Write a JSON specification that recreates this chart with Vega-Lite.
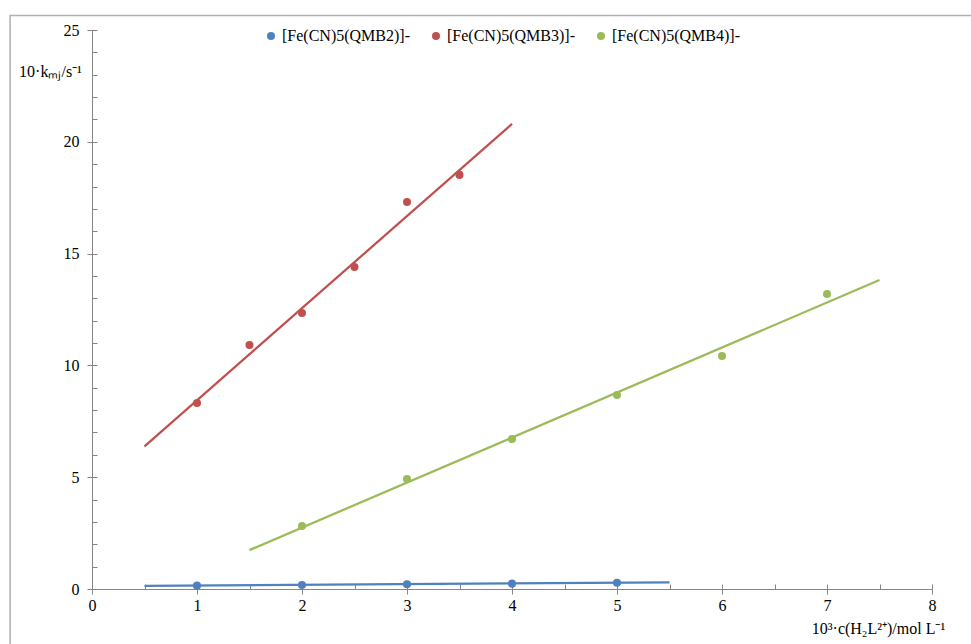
{
  "$schema": "https://vega.github.io/schema/vega-lite/v6.json",
  "width": 840,
  "height": 559,
  "autosize": {"type": "none"},
  "padding": {"left": 92, "top": 30, "right": 39, "bottom": 55},
  "background": "white",
  "config": {
    "view": {"stroke": null},
    "font": "'Liberation Serif', 'Times New Roman', serif",
    "axis": {
      "domainColor": "#868686",
      "tickColor": "#868686",
      "labelColor": "#000000",
      "labelFont": "'Liberation Serif', 'Times New Roman', serif",
      "labelFontSize": 16,
      "labelFlush": false,
      "titleFont": "'Liberation Serif', 'Times New Roman', serif",
      "titleFontWeight": "normal",
      "titleColor": "#000000",
      "grid": false
    },
    "legend": {
      "labelFont": "'Liberation Serif', 'Times New Roman', serif"
    }
  },
  "datasets": {
    "points": [
      {"series": "[Fe(CN)5(QMB2)]-", "x": 1, "y": 0.15},
      {"series": "[Fe(CN)5(QMB2)]-", "x": 2, "y": 0.18},
      {"series": "[Fe(CN)5(QMB2)]-", "x": 3, "y": 0.21},
      {"series": "[Fe(CN)5(QMB2)]-", "x": 4, "y": 0.24},
      {"series": "[Fe(CN)5(QMB2)]-", "x": 5, "y": 0.28},
      {"series": "[Fe(CN)5(QMB3)]-", "x": 1, "y": 8.32},
      {"series": "[Fe(CN)5(QMB3)]-", "x": 1.5, "y": 10.91},
      {"series": "[Fe(CN)5(QMB3)]-", "x": 2, "y": 12.34},
      {"series": "[Fe(CN)5(QMB3)]-", "x": 2.5, "y": 14.4},
      {"series": "[Fe(CN)5(QMB3)]-", "x": 3, "y": 17.31},
      {"series": "[Fe(CN)5(QMB3)]-", "x": 3.5, "y": 18.52},
      {"series": "[Fe(CN)5(QMB4)]-", "x": 2, "y": 2.82},
      {"series": "[Fe(CN)5(QMB4)]-", "x": 3, "y": 4.92},
      {"series": "[Fe(CN)5(QMB4)]-", "x": 4, "y": 6.71},
      {"series": "[Fe(CN)5(QMB4)]-", "x": 5, "y": 8.68},
      {"series": "[Fe(CN)5(QMB4)]-", "x": 6, "y": 10.42},
      {"series": "[Fe(CN)5(QMB4)]-", "x": 7, "y": 13.19}
    ],
    "fits": [
      {"series": "[Fe(CN)5(QMB2)]-", "x": 0.5, "y": 0.14},
      {"series": "[Fe(CN)5(QMB2)]-", "x": 5.5, "y": 0.3},
      {"series": "[Fe(CN)5(QMB3)]-", "x": 0.5, "y": 6.38},
      {"series": "[Fe(CN)5(QMB3)]-", "x": 4.0, "y": 20.8},
      {"series": "[Fe(CN)5(QMB4)]-", "x": 1.5, "y": 1.74},
      {"series": "[Fe(CN)5(QMB4)]-", "x": 7.5, "y": 13.82}
    ]
  },
  "layer": [
    {
      "data": {"values": [{}]},
      "mark": {"type": "rect", "fill": null, "stroke": "#b0b0b0", "strokeWidth": 1.5, "clip": false},
      "encoding": {
        "x": {"datum": -0.78, "type": "quantitative", "scale": {"domain": [0, 8], "nice": false}, "axis": null},
        "x2": {"datum": 9.5},
        "y": {"datum": 25.65, "type": "quantitative", "scale": {"domain": [0, 25], "nice": false}, "axis": null},
        "y2": {"datum": -5}
      }
    },
    {
      "data": {"name": "fits"},
      "mark": {"type": "line", "strokeWidth": 2.25, "clip": false},
      "encoding": {
        "x": {"field": "x", "type": "quantitative",
          "axis": {"orient": "bottom", "values": [0,1,2,3,4,5,6,7,8], "tickSize": 5, "labelPadding": 3, "format": "d",
            "title": "10³·c(H₂L²⁺)/mol L⁻¹", "titleFontSize": 16, "titleAngle": 0, "titleX": 786, "titleY": 39, "titleAlign": "center", "titleBaseline": "middle"}},
        "y": {"field": "y", "type": "quantitative",
          "axis": {"orient": "left", "values": [0,5,10,15,20,25], "tickSize": 5, "labelPadding": 8, "format": "d",
            "title": "10·kₘⱼ/s⁻¹", "titleFontSize": 16, "titleAngle": 0, "titleX": -42, "titleY": 41, "titleAlign": "center", "titleBaseline": "middle"}},
        "stroke": {"field": "series", "type": "nominal", "legend": null,
          "scale": {"domain": ["[Fe(CN)5(QMB2)]-", "[Fe(CN)5(QMB3)]-", "[Fe(CN)5(QMB4)]-"], "range": ["#4f81bd", "#c0504d", "#9bbb59"]}},
        "detail": {"field": "series"}
      }
    },
    {
      "data": {"name": "points"},
      "mark": {"type": "point", "filled": true, "opacity": 1, "size": 65, "shape": "circle"},
      "encoding": {
        "x": {"field": "x", "type": "quantitative",
          "axis": {"orient": "bottom", "values": [0,0.5,1,1.5,2,2.5,3,3.5,4,4.5,5,5.5,6,6.5,7,7.5,8], "tickSize": -5, "labels": false, "domain": false, "title": null}},
        "y": {"field": "y", "type": "quantitative",
          "axis": {"orient": "left", "values": [0,1,2,3,4,5,6,7,8,9,10,11,12,13,14,15,16,17,18,19,20,21,22,23,24,25], "tickSize": -5, "labels": false, "domain": false, "title": null}},
        "color": {"field": "series", "type": "nominal",
          "scale": {"domain": ["[Fe(CN)5(QMB2)]-", "[Fe(CN)5(QMB3)]-", "[Fe(CN)5(QMB4)]-"], "range": ["#4f81bd", "#c0504d", "#9bbb59"]},
          "legend": {"orient": "none", "direction": "horizontal", "legendX": 171, "legendY": -2, "title": null,
            "symbolType": "circle", "symbolSize": 65, "labelFont": "'Liberation Serif', 'Times New Roman', serif", "labelFontSize": 16, "labelColor": "#000000",
            "labelLimit": 0, "columnPadding": 18, "labelOffset": 3}}
      }
    }
  ],
  "resolve": {"axis": {"x": "independent", "y": "independent"}, "scale": {"color": "independent", "stroke": "independent"}}
}
